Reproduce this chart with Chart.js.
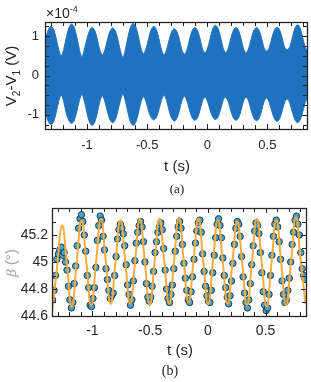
<!DOCTYPE html>
<html><head><meta charset="utf-8">
<script src="https://cdn.jsdelivr.net/npm/chart.js@4.4.1/dist/chart.umd.min.js"></script>
<style>
html,body{margin:0;padding:0;background:#fff;width:311px;height:382px;overflow:hidden;position:relative;font-family:"Liberation Sans",Arial,sans-serif;}
.box{position:absolute;left:0;width:311px;}
.lbl{position:absolute;white-space:nowrap;color:#262626;line-height:1;}
.c{transform:translate(-50%,-50%);}
.r{transform:translate(-50%,-50%) rotate(-90deg);}
</style></head><body>
<div class="box" style="top:0;height:160px"><canvas id="ca" width="311" height="160"></canvas></div>
<div class="box" style="top:195px;height:150px"><canvas id="cb" width="311" height="150"></canvas></div>
<div class="lbl" style="left:46px;top:5px;font-size:14px">×10<sup style="font-size:9px;vertical-align:6px">-4</sup></div>
<div class="lbl r" style="left:12px;top:76px;font-size:15px">V<sub style="font-size:10px">2</sub>-V<sub style="font-size:10px">1</sub> (V)</div>
<div class="lbl c" style="left:177px;top:165px;font-size:15px">t (s)</div>
<div class="lbl c" style="left:177px;top:188px;font-size:13px;font-family:'Liberation Serif',serif">(a)</div>
<div class="lbl r" style="left:11px;top:263px;font-size:15px;color:#9a9a9a"><i style="font-family:'Liberation Serif',serif">β</i> (°)</div>
<div class="lbl c" style="left:180px;top:349px;font-size:15px">t (s)</div>
<div class="lbl c" style="left:170px;top:371px;font-size:14px;font-family:'Liberation Serif',serif">(b)</div>
<script>
// ---------- (a) envelope of V2-V1, in units of 1e-4 V ----------
const envT = [-1.3641,-1.3428,-1.3214,-1.3,-1.2786,-1.2573,-1.2359,-1.2145,-1.1931,-1.1718,-1.1504,-1.129,-1.1076,-1.0863,-1.0649,-1.0435,-1.0221,-1.0008,-0.9794,-0.958,-0.9366,-0.9153,-0.8939,-0.8725,-0.8511,-0.8298,-0.8084,-0.787,-0.7656,-0.7443,-0.7229,-0.7015,-0.6801,-0.6588,-0.6374,-0.616,-0.5946,-0.5733,-0.5519,-0.5305,-0.5091,-0.4878,-0.4664,-0.445,-0.4236,-0.4023,-0.3809,-0.3595,-0.3381,-0.3168,-0.2954,-0.274,-0.2526,-0.2313,-0.2099,-0.1885,-0.1671,-0.1458,-0.1244,-0.103,-0.0816,-0.0603,-0.0389,-0.0175,0.0039,0.0253,0.0466,0.068,0.0894,0.1108,0.1321,0.1535,0.1749,0.1963,0.2176,0.239,0.2604,0.2818,0.3031,0.3245,0.3459,0.3673,0.3886,0.41,0.4314,0.4528,0.4741,0.4955,0.5169,0.5383,0.5596,0.581,0.6024,0.6238,0.6451,0.6665,0.6879,0.7093,0.7306,0.752,0.7734,0.7948,0.8161,0.8375,0.8589];
const envUpper = [0.70,0.96,1.17,
 1.25,1.18,0.95,0.66,0.50,0.68,0.98,
 1.22,1.31,1.23,0.99,0.68,0.47,0.67,0.93,
 1.14,1.22,1.15,0.93,0.65,0.52,0.66,0.92,
 1.13,1.21,1.14,0.92,0.64,0.46,0.68,0.99,
 1.24,1.33,1.24,1.00,0.70,0.55,0.69,0.94,
 1.17,1.25,1.17,0.94,0.66,0.52,0.66,0.91,
 1.12,1.19,1.12,0.91,0.64,0.54,0.67,0.94,
 1.15,1.22,1.15,0.94,0.67,0.58,0.70,0.96,
 1.20,1.28,1.20,0.97,0.70,0.58,0.70,0.94,
 1.15,1.22,1.15,0.93,0.67,0.58,0.70,0.95,
 1.15,1.22,1.15,0.94,0.69,0.62,0.72,0.96,
 1.16,1.23,1.16,0.95,0.71,0.66,0.74,0.98,
 1.21,1.29,1.20,0.96,0.72,0.62,0.70];
const envLower = [-0.70,-0.96,-1.18,
 -1.25,-1.18,-0.95,-0.66,-0.50,-0.68,-0.97,
 -1.15,-1.22,-1.15,-0.93,-0.65,-0.48,-0.66,-0.95,
 -1.19,-1.27,-1.19,-0.96,-0.66,-0.52,-0.67,-0.93,
 -1.13,-1.20,-1.13,-0.91,-0.64,-0.47,-0.67,-0.96,
 -1.19,-1.27,-1.19,-0.96,-0.68,-0.54,-0.67,-0.91,
 -1.07,-1.13,-1.07,-0.87,-0.62,-0.50,-0.64,-0.90,
 -1.09,-1.16,-1.09,-0.89,-0.63,-0.53,-0.66,-0.90,
 -1.08,-1.14,-1.08,-0.88,-0.64,-0.55,-0.67,-0.90,
 -1.06,-1.12,-1.06,-0.87,-0.63,-0.55,-0.67,-0.90,
 -1.08,-1.14,-1.08,-0.88,-0.64,-0.55,-0.67,-0.91,
 -1.09,-1.15,-1.09,-0.89,-0.65,-0.57,-0.69,-0.92,
 -1.10,-1.17,-1.10,-0.90,-0.67,-0.60,-0.71,-0.95,
 -1.13,-1.20,-1.13,-0.92,-0.68,-0.58,-0.66];
const xTicksA = [-1, -0.5, 0, 0.5];
const xMinorA = [-1.3,-1.2,-1.1,-0.9,-0.8,-0.7,-0.6,-0.4,-0.3,-0.2,-0.1,0.1,0.2,0.3,0.4,0.6,0.7,0.8];
const yTicksA = [-1, 0, 1];
const yMinorA = [-1.25,-0.75,-0.5,-0.25,0.25,0.5,0.75,1.25];

// ---------- (b) beta measurements and fit ----------
const betaT = [-1.345,-1.3325,-1.32,-1.3075,-1.295,-1.2825,-1.27,-1.2575,-1.245,-1.2325,-1.22,-1.2075,-1.195,-1.1825,-1.17,-1.1575,-1.145,-1.1325,-1.12,-1.1075,-1.095,-1.0825,-1.07,-1.0575,-1.045,-1.0325,-1.02,
 -1.0075,-0.995,-0.9825,-0.97,-0.9575,-0.945,-0.9325,-0.92,-0.9075,-0.895,-0.8825,-0.87,-0.8575,-0.845,-0.8325,-0.82,-0.8075,-0.795,-0.7825,-0.77,-0.7575,-0.745,-0.7325,-0.72,-0.7075,-0.695,-0.6825,
 -0.67,-0.6575,-0.645,-0.6325,-0.62,-0.6075,-0.595,-0.5825,-0.57,-0.5575,-0.545,-0.5325,-0.52,-0.5075,-0.495,-0.4825,-0.47,-0.4575,-0.445,-0.4325,-0.42,-0.4075,-0.395,-0.3825,-0.37,-0.3575,-0.345,
 -0.3325,-0.32,-0.3075,-0.295,-0.2825,-0.27,-0.2575,-0.245,-0.2325,-0.22,-0.2075,-0.195,-0.1825,-0.17,-0.1575,-0.145,-0.1325,-0.12,-0.1075,-0.095,-0.0825,-0.07,-0.0575,-0.045,-0.0325,-0.02,-0.0075,
 0.005,0.0175,0.03,0.0425,0.055,0.0675,0.08,0.0925,0.105,0.1175,0.13,0.1425,0.155,0.1675,0.18,0.1925,0.205,0.2175,0.23,0.2425,0.255,0.2675,0.28,0.2925,0.305,0.3175,0.33,
 0.3425,0.355,0.3675,0.38,0.3925,0.405,0.4175,0.43,0.4425,0.455,0.4675,0.48,0.4925,0.505,0.5175,0.53,0.5425,0.555,0.5675,0.58,0.5925,0.605,0.6175,0.63,0.6425,0.655,0.6675,
 0.68,0.6925,0.705,0.7175,0.73,0.7425,0.755,0.7675,0.78,0.7925,0.805,0.8175,0.83,0.8425];
const betaV = [44.72,44.79,44.90,45.02,45.06,45.09,45.11,45.05,45.07,45.00,44.94,44.82,44.72,44.66,44.70,44.84,44.97,45.12,45.25,45.32,45.35,45.30,45.20,45.08,44.90,44.81,44.68,
 44.67,44.73,44.81,44.96,45.16,45.27,45.34,45.31,45.19,45.09,44.95,44.87,44.79,44.73,44.75,44.77,44.90,45.04,45.17,45.24,45.28,45.25,45.21,45.12,44.98,44.83,44.76,
 44.68,44.72,44.86,45.01,45.14,45.22,45.27,45.30,45.26,45.15,45.00,44.84,44.74,44.71,44.74,44.82,44.93,45.07,45.15,45.22,45.26,45.29,45.24,45.10,44.94,44.80,44.73,
 44.70,44.76,44.83,44.95,45.08,45.19,45.26,45.30,45.25,45.13,44.99,44.88,44.79,44.72,44.70,44.78,44.89,45.02,45.14,45.23,45.29,45.31,45.22,45.06,44.93,44.82,44.75,
 44.71,44.70,44.79,44.92,45.05,45.18,45.28,45.32,45.27,45.18,45.03,44.90,44.81,44.74,44.69,44.75,44.86,44.99,45.13,45.25,45.30,45.28,45.19,45.04,44.89,44.77,44.70,
 44.66,44.72,44.84,44.98,45.12,45.23,45.29,45.27,45.21,45.07,44.92,44.78,44.68,44.64,44.66,44.76,44.90,45.05,45.19,45.28,45.31,45.26,45.15,45.02,44.86,44.76,44.70,
 44.72,44.79,44.88,45.00,45.13,45.22,45.31,45.34,45.28,45.20,45.07,44.95,44.90,44.87];
const fitT = [-1.348,-1.306,-1.264,-1.222,-1.179,-1.137,-1.095,-1.053,-1.011,-0.968,-0.926,-0.884,-0.842,-0.800,-0.757,-0.715,-0.673,-0.631,-0.589,-0.546,-0.504,-0.462,-0.420,-0.378,-0.335,-0.293,-0.251,-0.209,-0.167,-0.124,-0.082,-0.040,0.002,0.044,0.087,0.129,0.171,0.213,0.255,0.298,0.340,0.382,0.424,0.466,0.509,0.551,0.593,0.635,0.677,0.720,0.762,0.804,0.846];
const fitV = [44.64,44.96,45.27,45.00,44.67,44.99,45.31,45.00,44.68,45.00,45.32,45.00,44.69,45.00,45.31,45.00,44.69,45.00,45.32,45.00,44.68,45.00,45.32,45.01,44.69,45.01,45.33,45.01,44.70,45.01,45.32,45.00,44.69,45.00,45.31,45.00,44.69,45.00,45.30,44.99,44.68,45.00,45.32,45.00,44.67,44.99,45.31,45.00,44.68,45.00,45.33,45.01,44.69];
const xTicksB = [-1, -0.5, 0, 0.5];
const xMinorB = [-1.3,-1.2,-1.1,-0.9,-0.8,-0.7,-0.6,-0.4,-0.3,-0.2,-0.1,0.1,0.2,0.3,0.4,0.6,0.7,0.8];
const yTicksB = [44.6, 44.8, 45, 45.2];
const yMinorB = [44.7, 44.9, 45.1, 45.3];

const FONT = "'Liberation Sans', Arial, sans-serif";
const AX = '#262626';

const boxPlugin = {
  id: 'matlabBox',
  afterDraw(chart) {
    const o = chart.options.plugins.matlabBox;
    const {ctx, chartArea: a} = chart;
    const xs = chart.scales.x, ys = chart.scales.y;
    ctx.save();
    ctx.strokeStyle = AX;
    ctx.lineWidth = 1;
    ctx.beginPath();
    const xt = (v, L) => {
      const p = Math.round(xs.getPixelForValue(v)) + 0.5;
      ctx.moveTo(p, a.bottom); ctx.lineTo(p, a.bottom - L);
      ctx.moveTo(p, a.top); ctx.lineTo(p, a.top + L);
    };
    const yt = (v, L) => {
      const p = Math.round(ys.getPixelForValue(v)) + 0.5;
      ctx.moveTo(a.left, p); ctx.lineTo(a.left + L, p);
      ctx.moveTo(a.right, p); ctx.lineTo(a.right - L, p);
    };
    o.xMajor.forEach(v => xt(v, 5));
    o.xMinor.forEach(v => xt(v, 4));
    o.yMajor.forEach(v => yt(v, 5));
    o.yMinor.forEach(v => yt(v, 4));
    ctx.stroke();
    ctx.lineWidth = 1.3;
    ctx.strokeRect(Math.round(a.left) + 0.5, Math.round(a.top) + 0.5, Math.round(a.right) - Math.round(a.left), Math.round(a.bottom) - Math.round(a.top));
    ctx.restore();
  }
};

function axes(xmin, xmax, ymin, ymax, xt, yt, yW, xH, fs, pad, ypad) {
  return {
    x: {type: 'linear', min: xmin, max: xmax, grid: {display: false, drawTicks: false, tickLength: 0}, border: {display: false},
        ticks: {font: {family: FONT, size: fs}, color: AX, padding: pad, maxRotation: 0, autoSkip: false, callback: v => String(v)},
        afterBuildTicks: s => { s.ticks = xt.map(v => ({value: v})); },
        afterFit: s => { s.height = xH; }},
    y: {type: 'linear', min: ymin, max: ymax, grid: {display: false, drawTicks: false, tickLength: 0}, border: {display: false},
        ticks: {font: {family: FONT, size: fs}, color: AX, padding: ypad, autoSkip: false, callback: v => String(v)},
        afterBuildTicks: s => { s.ticks = yt.map(v => ({value: v})); },
        afterFit: s => { s.width = yW; }}
  };
}

const BLUE = '#1f72be';
new Chart(document.getElementById('ca'), {
  type: 'line',
  data: {datasets: [
    {data: envT.map((t, i) => ({x: t, y: envUpper[i]})), borderColor: BLUE, backgroundColor: BLUE, borderWidth: 1, pointRadius: 0, fill: '+1', tension: 0.3},
    {data: envT.map((t, i) => ({x: t, y: envLower[i]})), borderColor: BLUE, backgroundColor: BLUE, borderWidth: 1, pointRadius: 0, fill: false, tension: 0.3}
  ]},
  options: {
    responsive: false, animation: false, events: [],
    layout: {padding: {top: 22, right: 4, left: 0, bottom: 0}},
    plugins: {legend: {display: false}, tooltip: {enabled: false},
      matlabBox: {xMajor: xTicksA, xMinor: xMinorA, yMajor: yTicksA, yMinor: yMinorA}},
    scales: axes(-1.35, 0.83, -1.36, 1.36, xTicksA, yTicksA, 45, 31, 13, 9, 6)
  },
  plugins: [boxPlugin]
});

new Chart(document.getElementById('cb'), {
  type: 'scatter',
  data: {datasets: [
    {type: 'line', data: fitT.map((t, i) => ({x: t, y: fitV[i]})), borderColor: '#f5ab3e', borderWidth: 2, pointRadius: 0, fill: false, tension: 0.5, order: 0},
    {data: betaT.map((t, i) => ({x: t, y: betaV[i]})), backgroundColor: '#42a6cc', borderColor: '#1e3a50', borderWidth: 1, pointRadius: 3.2, order: 1}
  ]},
  options: {
    responsive: false, animation: false, events: [],
    layout: {padding: {top: 13, right: 4, left: 0, bottom: 0}},
    plugins: {legend: {display: false}, tooltip: {enabled: false},
      matlabBox: {xMajor: xTicksB, xMinor: xMinorB, yMajor: yTicksB, yMinor: yMinorB}},
    scales: axes(-1.35, 0.85, 44.6, 45.4, xTicksB, yTicksB, 52, 29, 14, 7, 4)
  },
  plugins: [boxPlugin]
});
</script>
</body></html>
